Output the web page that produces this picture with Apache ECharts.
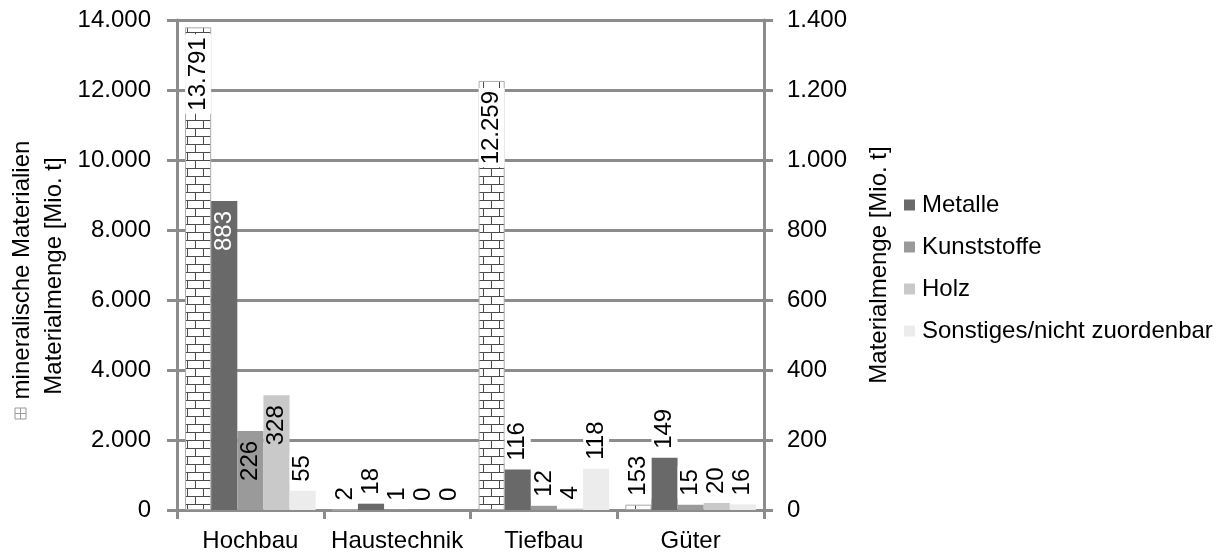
<!DOCTYPE html>
<html><head><meta charset="utf-8">
<script src="https://cdn.jsdelivr.net/npm/echarts@6/dist/echarts.min.js"></script>
<style>html,body{margin:0;padding:0;background:#fff}#c{width:1229px;height:556px}</style>
</head><body><div id="c"></div>
<script>
const categories = ['Hochbau', 'Haustechnik', 'Tiefbau', 'Güter'];
const mineralName = 'mineralische Materialien';
const mineral = [13791, 2, 12259, 153];
const metalle = [883, 18, 116, 149];
const kunststoffe = [226, 1, 12, 15];
const holz = [328, 0, 4, 20];
const sonstiges = [55, 0, 118, 16];
const leftTicks = { min: 0, max: 14000, interval: 2000 };
const rightTicks = { min: 0, max: 1400, interval: 200 };
const leftTitle = 'Materialmenge [Mio. t]';
const rightTitle = 'Materialmenge [Mio. t]';

const FONT = 'Liberation Sans, Arial, sans-serif';
const FS = 24;
const GRID_GRAY = '#8c8c8c';

function fmt(v) {
  return String(Math.round(v)).replace(/\B(?=(\d{3})+(?!\d))/g, '.');
}

// brick pattern
const tile = document.createElement('canvas');
tile.width = 16; tile.height = 16;
(function () {
  const g = tile.getContext('2d');
  g.fillStyle = '#fff'; g.fillRect(0, 0, 16, 16);
  g.strokeStyle = '#4a4a4a'; g.lineWidth = 1;
  g.beginPath();
  g.moveTo(0, 0.5); g.lineTo(16, 0.5);
  g.moveTo(0, 8.5); g.lineTo(16, 8.5);
  g.moveTo(3.5, 0); g.lineTo(3.5, 8);
  g.moveTo(11.5, 8); g.lineTo(11.5, 16);
  g.stroke();
})();
const brick = { image: tile, repeat: 'repeat' };

function makeData(values, axisMax, insideColor, insideBg) {
  return values.map(v => {
    const inside = v / axisMax > 0.13;
    return {
      value: v,
      label: inside ? {
        position: 'insideTop', distance: 7, align: 'right', verticalAlign: 'middle',
        color: insideColor, backgroundColor: insideBg, padding: [1, 3]
      } : {
        position: 'top', distance: 6, align: 'left', verticalAlign: 'middle',
        color: '#000', backgroundColor: '#fff', padding: [1, 3]
      }
    };
  });
}

function series(name, values, color, axisIdx, axisMax, insideColor, insideBg, extra) {
  return Object.assign({
    name, type: 'bar', yAxisIndex: axisIdx,
    barGap: '0%', barCategoryGap: '11%',
    itemStyle: { color },
    label: {
      show: true, rotate: 90, fontSize: FS, fontFamily: FONT,
      formatter: p => fmt(p.value)
    },
    data: makeData(values, axisMax, insideColor, insideBg)
  }, extra || {});
}

const chart = echarts.init(document.getElementById('c'));
chart.setOption({
  animation: false,
  backgroundColor: '#fff',
  textStyle: { fontFamily: FONT },
  grid: { left: 177, right: 465, top: 20, bottom: 46, containLabel: false },
  legend: {
    orient: 'vertical', left: 899, top: 188,
    itemWidth: 11, itemHeight: 11, itemGap: 18, icon: 'rect',
    textStyle: { fontSize: FS, color: '#000', fontFamily: FONT, padding: [0, 0, 0, 2] },
    data: ['Metalle', 'Kunststoffe', 'Holz', 'Sonstiges/nicht zuordenbar']
  },
  xAxis: {
    type: 'category', data: categories, boundaryGap: true,
    axisLine: { lineStyle: { color: GRID_GRAY, width: 3 } },
    axisTick: { show: true, length: 9, lineStyle: { color: GRID_GRAY, width: 3 } },
    axisLabel: { fontSize: FS, color: '#000', margin: 19, interval: 0, fontFamily: FONT }
  },
  yAxis: [{
    type: 'value', min: leftTicks.min, max: leftTicks.max, interval: leftTicks.interval,
    position: 'left',
    axisLine: { show: true, lineStyle: { color: GRID_GRAY, width: 3 } },
    axisTick: { show: true, length: 10, lineStyle: { color: GRID_GRAY, width: 3 } },
    axisLabel: { fontSize: FS, color: '#000', margin: 26, formatter: fmt, fontFamily: FONT },
    splitLine: { show: true, lineStyle: { color: GRID_GRAY, width: 3 } }
  }, {
    type: 'value', min: rightTicks.min, max: rightTicks.max, interval: rightTicks.interval,
    position: 'right',
    name: rightTitle, nameLocation: 'middle', nameRotate: 90, nameGap: 103,
    nameTextStyle: { fontSize: FS, color: '#000', fontFamily: FONT },
    axisLine: { show: true, lineStyle: { color: GRID_GRAY, width: 3 } },
    axisTick: { show: true, length: 9, lineStyle: { color: GRID_GRAY, width: 3 } },
    axisLabel: { fontSize: FS, color: '#000', margin: 23, formatter: fmt, fontFamily: FONT },
    splitLine: { show: false }
  }],
  graphic: [
    { type: 'text', x: 22, y: 270, rotation: Math.PI / 2,
      style: { text: mineralName, fontSize: FS, fontFamily: FONT, fill: '#000', align: 'center', verticalAlign: 'middle' } },
    { type: 'rect', shape: { x: 15, y: 408, width: 11, height: 11 },
      style: { fill: '#fff', stroke: '#999', lineWidth: 1 } },
    { type: 'line', shape: { x1: 15, y1: 413.5, x2: 26, y2: 413.5 }, style: { stroke: '#999', lineWidth: 1 } },
    { type: 'line', shape: { x1: 20.5, y1: 408, x2: 20.5, y2: 419 }, style: { stroke: '#999', lineWidth: 1 } },
    { type: 'text', x: 54, y: 276, rotation: Math.PI / 2,
      style: { text: leftTitle, fontSize: FS, fontFamily: FONT, fill: '#000', align: 'center', verticalAlign: 'middle' } }
  ],
  series: [
    series(mineralName, mineral, brick, 0, leftTicks.max, '#000', '#fff',
      { itemStyle: { color: brick, borderColor: '#aaa', borderWidth: 1 } }),
    series('Metalle', metalle, '#696969', 1, rightTicks.max, '#fff', 'transparent'),
    series('Kunststoffe', kunststoffe, '#9a9a9a', 1, rightTicks.max, '#000', 'transparent'),
    series('Holz', holz, '#c9c9c9', 1, rightTicks.max, '#000', 'transparent'),
    series('Sonstiges/nicht zuordenbar', sonstiges, '#ececec', 1, rightTicks.max, '#000', 'transparent')
  ]
});
</script></body></html>
